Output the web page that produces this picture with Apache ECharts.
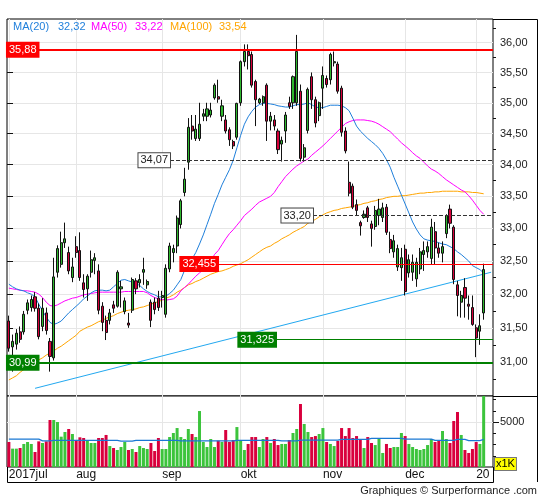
<!DOCTYPE html>
<html><head><meta charset="utf-8">
<script src="https://cdn.jsdelivr.net/npm/echarts@6/dist/echarts.min.js"></script>
<style>html,body{margin:0;padding:0;background:#fff}#c{width:545px;height:500px}</style>
</head><body><div id="c"></div>
<script>
// ---------------- DATA ----------------
const tradingDays = [
'2017-07-06','2017-07-07','2017-07-10','2017-07-11','2017-07-12','2017-07-13','2017-07-14','2017-07-17','2017-07-18','2017-07-19','2017-07-20','2017-07-21','2017-07-24','2017-07-25','2017-07-26','2017-07-27','2017-07-28','2017-07-31',
'2017-08-01','2017-08-02','2017-08-03','2017-08-04','2017-08-07','2017-08-08','2017-08-09','2017-08-10','2017-08-11','2017-08-14','2017-08-15','2017-08-16','2017-08-17','2017-08-18','2017-08-21','2017-08-22','2017-08-23','2017-08-24','2017-08-25','2017-08-28','2017-08-29','2017-08-30','2017-08-31',
'2017-09-01','2017-09-04','2017-09-05','2017-09-06','2017-09-07','2017-09-08','2017-09-11','2017-09-12','2017-09-13','2017-09-14','2017-09-15','2017-09-18','2017-09-19','2017-09-20','2017-09-21','2017-09-22','2017-09-25','2017-09-26','2017-09-27','2017-09-28','2017-09-29',
'2017-10-02','2017-10-03','2017-10-04','2017-10-05','2017-10-06','2017-10-09','2017-10-10','2017-10-11','2017-10-12','2017-10-13','2017-10-16','2017-10-17','2017-10-18','2017-10-19','2017-10-20','2017-10-23','2017-10-24','2017-10-25','2017-10-26','2017-10-27','2017-10-30','2017-10-31',
'2017-11-01','2017-11-02','2017-11-03','2017-11-06','2017-11-07','2017-11-08','2017-11-09','2017-11-10','2017-11-13','2017-11-14','2017-11-15','2017-11-16','2017-11-17','2017-11-20','2017-11-21','2017-11-22','2017-11-23','2017-11-24','2017-11-27','2017-11-28','2017-11-29','2017-11-30',
'2017-12-01','2017-12-04','2017-12-05','2017-12-06','2017-12-07','2017-12-08','2017-12-11','2017-12-12','2017-12-13','2017-12-14','2017-12-15','2017-12-18','2017-12-19','2017-12-20','2017-12-21','2017-12-22','2017-12-27','2017-12-28','2017-12-29',
'2018-01-02','2018-01-03','2018-01-04'
];
const open = [
31.60,31.22,31.26,31.44,31.44,31.76,31.80,31.96,31.79,31.52,
31.72,31.30,31.06,32.33,32.45,32.78,32.63,32.25,32.72,32.66,
32.17,32.08,32.33,32.51,32.35,31.82,31.61,31.61,31.84,31.82,
32.08,31.74,31.57,31.76,32.20,32.17,32.33,32.14,31.88,31.88,
31.94,31.95,31.70,32.38,32.63,32.73,33.06,33.56,34.04,34.62,
34.42,34.42,34.78,34.78,34.80,35.08,35.10,34.78,34.72,34.56,
34.37,34.44,35.00,35.68,35.85,35.80,35.35,35.00,35.00,35.29,
34.70,34.72,34.54,34.33,34.54,35.00,35.00,35.00,35.19,34.12,
34.55,35.43,35.05,34.79,35.24,35.40,35.38,35.66,35.64,35.24,
34.54,33.72,33.66,33.37,33.09,33.17,33.32,33.07,33.03,33.20,
33.17,33.33,32.83,32.64,32.41,32.40,32.68,32.32,32.33,32.23,
32.38,32.60,32.64,32.54,32.95,32.70,32.62,32.92,33.30,33.02,
32.14,31.88,32.10,31.85,31.80,31.50,31.45,31.72
];
const close = [
31.20,31.30,31.42,31.33,31.70,31.87,31.92,31.79,31.37,31.79,
31.46,31.08,32.26,32.69,32.78,32.84,32.35,32.41,32.63,32.25,
32.07,32.27,32.52,32.55,31.76,31.58,31.43,31.72,31.79,32.33,
32.11,31.90,31.54,32.22,32.08,32.22,32.37,32.19,31.61,31.77,
31.80,31.98,32.39,32.73,32.69,33.16,33.43,33.77,34.60,34.54,
34.57,34.65,34.82,34.90,34.88,35.29,35.06,34.95,34.54,34.40,
34.30,34.99,35.68,35.85,35.78,35.29,35.05,35.06,35.10,34.70,
34.78,34.62,34.24,34.39,34.80,34.94,35.43,35.85,34.10,34.27,
35.22,35.05,34.67,35.00,35.45,35.30,35.80,35.68,35.19,34.52,
34.22,33.55,33.33,33.28,33.04,33.22,33.17,33.00,33.28,33.30,
33.32,32.94,32.69,32.81,32.69,32.55,32.04,32.52,32.48,32.48,
32.64,32.66,32.72,33.02,32.70,32.62,32.72,33.20,33.08,32.22,
31.98,31.98,31.94,31.82,31.55,31.35,31.53,32.37
];
const high = [
31.68,31.40,31.48,31.52,31.75,31.92,31.98,32.03,31.86,31.94,
31.80,31.35,32.55,32.74,32.95,33.09,32.72,32.55,32.88,32.94,
32.30,32.30,32.66,32.62,32.45,31.88,31.68,31.78,31.90,32.36,
32.20,31.95,31.72,32.25,32.24,32.30,32.55,32.22,31.92,31.95,
32.05,32.05,32.45,32.78,32.75,33.20,33.46,33.95,34.75,34.80,
34.80,35.00,34.90,35.00,35.00,35.32,35.38,35.05,34.80,34.60,
34.40,35.00,35.70,35.97,35.97,35.85,35.38,35.08,35.12,35.32,
34.85,34.80,34.58,34.45,34.85,35.10,35.45,36.13,35.30,34.33,
35.25,35.50,35.10,35.02,35.60,35.45,35.83,35.85,35.68,35.28,
34.60,34.05,33.70,33.45,33.12,33.28,33.35,33.12,33.35,33.46,
33.40,33.38,32.95,32.90,32.75,32.70,32.75,32.60,32.60,32.55,
32.70,32.80,32.80,33.15,33.10,32.78,32.80,33.22,33.37,33.05,
32.20,32.05,32.24,31.98,31.98,31.55,31.70,32.46
];
const low = [
31.15,30.86,31.18,31.28,31.40,31.70,31.74,31.74,31.33,31.45,
31.40,30.86,31.02,32.25,32.40,32.70,32.30,32.18,32.55,32.20,
31.95,31.90,32.25,32.30,31.70,31.45,31.32,31.55,31.72,31.80,
31.80,31.70,31.50,31.72,32.00,32.10,32.14,32.08,31.51,31.70,
31.75,31.80,31.65,32.33,32.48,32.62,33.00,33.50,33.92,34.40,
34.38,34.38,34.70,34.70,34.76,35.05,35.00,34.70,34.50,34.30,
34.25,34.40,34.95,35.60,35.55,35.25,34.62,34.98,34.95,34.38,
34.55,34.55,34.17,34.05,34.35,34.90,34.90,34.95,34.05,34.05,
34.50,34.90,34.60,34.70,34.90,35.25,35.30,35.60,35.15,34.45,
34.18,33.50,33.30,33.20,32.89,33.15,33.10,32.72,32.98,33.05,
33.10,32.90,32.62,32.55,32.35,32.20,31.98,32.25,32.20,32.11,
32.30,32.35,32.55,32.45,32.45,32.55,32.48,32.85,33.00,32.15,
31.67,31.65,31.65,31.62,31.53,31.07,31.25,31.62
];
const volume = [
2780,2040,2040,2110,2560,2780,2560,1670,2850,2670,
2850,5220,5220,5000,3370,3890,4220,3670,2930,3300,
3220,3000,2670,2670,3220,3220,3560,2330,2110,1890,
2220,2780,1890,2000,1670,2330,2110,2000,2670,1780,
3220,2000,2000,3330,3780,4330,3330,3110,4220,3670,
3330,6220,2780,2220,3110,2220,2930,2780,4110,2780,
3000,4440,2890,1890,2560,3330,3330,2220,3110,3330,
2670,3110,2440,2560,2560,3000,3780,4220,7000,4780,
3890,3330,3440,3670,4330,2780,2560,2330,2890,4330,
3440,4330,3220,3440,3110,2110,3330,2670,2440,3110,
1560,2560,2110,2220,2220,3780,3440,2560,2220,2000,
1890,2000,2440,3110,2780,2890,4000,3110,2670,5110,
6110,3560,1890,1560,2000,2780,2560,9000
];
const ma20 = [
32.15,32.11,32.08,32.06,32.05,32.02,32.00,31.96,31.85,31.75,
31.66,31.58,31.55,31.57,31.60,31.66,31.72,31.77,31.82,31.87,
31.93,31.97,32.02,32.05,32.06,32.06,32.05,32.06,32.11,32.16,
32.21,32.22,32.20,32.18,32.16,32.13,32.08,32.04,32.01,31.99,
31.96,31.96,31.97,32.01,32.06,32.14,32.22,32.36,32.45,32.53,
32.63,32.76,32.90,33.06,33.22,33.39,33.53,33.68,33.80,33.92,
34.07,34.27,34.47,34.65,34.77,34.86,34.93,34.97,34.99,34.99,
34.98,34.97,34.95,34.94,34.93,34.93,34.95,34.97,34.97,34.98,
35.00,34.97,34.93,34.92,34.92,34.94,34.96,34.96,34.96,34.95,
34.92,34.87,34.75,34.62,34.54,34.48,34.42,34.37,34.32,34.26,
34.18,34.08,33.96,33.80,33.66,33.52,33.38,33.24,33.10,32.99,
32.90,32.84,32.82,32.81,32.80,32.78,32.76,32.75,32.72,32.69,
32.64,32.60,32.55,32.50,32.43,32.40,32.37,32.32
];
const ma50 = [
32.09,32.08,32.07,32.06,32.05,32.05,32.04,32.03,32.00,31.95,
31.88,31.83,31.82,31.84,31.87,31.90,31.92,31.94,31.95,31.97,
31.99,32.00,32.01,32.02,32.03,32.03,32.03,32.03,32.03,32.03,
32.03,32.04,32.04,32.04,32.04,32.04,32.04,32.02,31.98,31.95,
31.93,31.92,31.91,31.92,31.93,31.97,32.05,32.10,32.15,32.21,
32.27,32.32,32.37,32.43,32.49,32.60,32.66,32.75,32.84,32.92,
32.98,33.05,33.12,33.20,33.25,33.30,33.36,33.41,33.44,33.47,
33.50,33.56,33.65,33.73,33.81,33.87,33.93,33.98,34.02,34.06,
34.09,34.15,34.20,34.25,34.30,34.36,34.42,34.48,34.54,34.60,
34.66,34.69,34.71,34.72,34.72,34.72,34.71,34.70,34.68,34.65,
34.61,34.57,34.53,34.47,34.41,34.35,34.30,34.25,34.19,34.14,
34.10,34.04,33.98,33.93,33.90,33.86,33.81,33.76,33.72,33.68,
33.64,33.60,33.57,33.51,33.44,33.36,33.28,33.22
];
const ma100 = [
30.74,30.77,30.80,30.85,30.89,30.93,30.97,31.00,31.03,31.06,
31.10,31.13,31.16,31.20,31.23,31.27,31.31,31.35,31.39,31.45,
31.48,31.51,31.53,31.56,31.59,31.61,31.64,31.66,31.68,31.71,
31.73,31.75,31.76,31.77,31.78,31.80,31.81,31.83,31.85,31.87,
31.89,31.91,31.94,31.96,31.99,32.03,32.06,32.10,32.14,32.16,
32.19,32.21,32.24,32.27,32.30,32.32,32.34,32.35,32.37,32.39,
32.42,32.44,32.46,32.49,32.52,32.56,32.60,32.64,32.68,32.71,
32.73,32.77,32.80,32.84,32.87,32.90,32.94,32.97,33.00,33.03,
33.08,33.11,33.14,33.18,33.21,33.24,33.26,33.28,33.29,33.31,
33.32,33.33,33.34,33.36,33.37,33.39,33.40,33.42,33.43,33.45,
33.46,33.48,33.49,33.50,33.50,33.51,33.51,33.52,33.53,33.54,
33.55,33.55,33.56,33.56,33.57,33.57,33.58,33.58,33.58,33.58,
33.58,33.57,33.57,33.57,33.56,33.56,33.55,33.54
];
const volMA = [
3100,3100,3100,3100,3100,3100,3100,3100,3100,2900,
2900,2900,2950,2950,2950,2950,2950,2950,2950,2950,
2950,2950,2950,2950,2950,2950,2950,2950,2950,2950,
2880,2880,2880,2880,2950,2950,2950,2950,2950,2950,
2950,2950,2950,2950,2950,2950,2900,2900,2900,2900,
2900,2900,2900,2900,2900,2900,2900,2900,2900,2900,
2900,2950,2950,2950,2950,2950,2950,2950,2950,2950,
2950,2950,2950,2900,2900,2900,2900,2900,2980,2980,
2980,2980,2980,2980,2980,2980,2980,2980,2980,3070,
3070,3070,3070,3070,3070,3070,3070,3180,3180,3180,
3180,3180,3180,3180,3180,3180,3100,3100,3100,3100,
3100,3100,3100,3100,2960,2960,2960,2960,2960,2960,
3070,3070,3070,2930,2930,2930,2930,3070
];
const trendLine = [[7, 30.62], [129, 32.33]];
const levelValues = [35.88, 34.07, 33.20, 32.455, 31.325, 30.99];
const monthLabels = {'2017-07':'2017jul','2017-08':'aug','2017-09':'sep','2017-10':'okt','2017-11':'nov','2017-12':'dec','2018-01':'20'};
const priceTicks = [31, 31.5, 32, 32.5, 33, 33.5, 34, 34.5, 35, 35.5, 36];
const priceMinorTicks = [30.75, 31.25, 31.75, 32.25, 32.75, 33.25, 33.75, 34.25, 34.75, 35.25, 35.75, 36.25];
const volTicks = [5000];
const volMinorTicks = [1250, 2500, 3750, 6250, 7500];
const legendNames = ['MA(20)', 'MA(50)', 'MA(100)'];
const legendValues = [32.32, 33.22, 33.54];
const creditText = 'Graphiques \u00a9 Surperformance .com';
const unitText = 'x1K';

// ---------------- LAYOUT / STYLE ----------------
const FONT = 'Arial, "Liberation Sans", sans-serif';
const UP = '#2eb82e', DOWN = '#d6003a';
const VUP = '#3cc43c', VDOWN = '#d9003d';
const maColors = ['#1f7fdb', '#ff00ff', '#ffa500'];
const legendX = [[13, 58], [91, 135], [170, 219]];
const levelStyle = [
  {color:'#ff0000', width:2, type:'solid', bg:'#ff0000', fg:'#fff', border:'#ff0000', labelEnd:6.48},
  {color:'#333', width:1, type:[4,2], bg:'#fff', fg:'#222', border:'#444', labelEnd:33.54},
  {color:'#333', width:1, type:[4,2], bg:'#fff', fg:'#222', border:'#444', labelEnd:62.96},
  {color:'#ff0000', width:1, type:'solid', bg:'#ff0000', fg:'#fff', border:'#ff0000', labelEnd:43.42},
  {color:'#008000', width:1, type:'solid', bg:'#008000', fg:'#fff', border:'#008000', labelEnd:55.35},
  {color:'#008000', width:2.2, type:'solid', bg:'#008000', fg:'#fff', border:'#008000', labelEnd:6.48}
];

const categories = tradingDays.concat(['', ' ']);
const monthStart = new Set();
categories.forEach((d, i) => {
  if (d.length === 10 && (i === 0 || d.slice(0, 7) !== categories[i - 1].slice(0, 7))) monthStart.add(i);
});
const fmt2 = v => v.toFixed(2).replace('.', ',');
const fmtLevel = v => v.toFixed(3).replace(/0$/, '').replace('.', ',');

const candleData = open.map((o, i) => [o, close[i], low[i], high[i]]);
const volData = volume.map((v, i) => ({value: v, itemStyle: {color: close[i] >= open[i] ? VUP : VDOWN}}));

const levelMarks = levelValues.map((v, k) => {
  const s = levelStyle[k];
  return [
    {coord: [s.labelEnd, v], lineStyle: {color: s.color, width: s.width, type: s.type},
     label: {show: true, position: 'start', distance: 0, formatter: fmtLevel(v), color: s.fg,
             backgroundColor: s.bg, borderColor: s.border, borderWidth: 1, padding: [2, 2, 1, 2],
             fontSize: 11, fontFamily: FONT}},
    {coord: [100, v]}
  ];
});

const gridLine = {color: '#e6e6e6', width: 1};
const catAxisBase = {
  type: 'category', data: categories, boundaryGap: true,
  axisLine: {show: false}, axisTick: {show: false},
  splitLine: {show: true, alignWithLabel: true, interval: (i) => monthStart.has(i), lineStyle: gridLine}
};

const graphics = [];
legendNames.forEach((n, k) => {
  graphics.push({type: 'text', x: legendX[k][0], y: 27, z: 100,
    style: {text: n, fill: maColors[k], font: '11px ' + FONT, verticalAlign: 'middle'}});
  graphics.push({type: 'text', x: legendX[k][1], y: 27, z: 100,
    style: {text: fmt2(legendValues[k]), fill: maColors[k], font: '11px ' + FONT, verticalAlign: 'middle'}});
});
graphics.push({type: 'polyline', z: 100, shape: {points: [[493, 19.5], [537.5, 19.5], [537.5, 482]]}, style: {stroke: '#000', lineWidth: 1, fill: null}});
graphics.push({type: 'line', z: 100, shape: {x1: 493, y1: 396.5, x2: 537.5, y2: 396.5}, style: {stroke: '#000', lineWidth: 1}});
graphics.push({type: 'polyline', z: 100, shape: {points: [[493.5, 467], [493.5, 482.5], [7.5, 482.5], [7.5, 467]]}, style: {stroke: '#000', lineWidth: 1, fill: null}});
graphics.push({type: 'text', x: 495, y: 464, z: 100,
  style: {text: unitText, fill: '#000', font: '11px ' + FONT, verticalAlign: 'middle', backgroundColor: '#ffff00',
          borderColor: '#777', borderWidth: 1, padding: [1, 1, 0, 1]}});
graphics.push({type: 'text', x: 537, y: 491, z: 100,
  style: {text: creditText, fill: '#222', font: '11px ' + FONT, align: 'right', verticalAlign: 'middle'}});

const option = {
  animation: false,
  backgroundColor: '#fff',
  grid: [
    {left: 7, top: 19, width: 486, height: 377, show: true, borderColor: '#000', borderWidth: 1, backgroundColor: '#fff', outerBoundsMode: 'none', containLabel: false},
    {left: 7, top: 396, width: 486, height: 71, show: true, borderColor: '#000', borderWidth: 1, backgroundColor: '#fff', outerBoundsMode: 'none', containLabel: false}
  ],
  xAxis: [
    Object.assign({}, catAxisBase, {gridIndex: 0, axisLabel: {show: false}}),
    Object.assign({}, catAxisBase, {gridIndex: 1, axisLabel: {show: true, interval: (i) => monthStart.has(i),
      formatter: (v) => monthLabels[v.slice(0, 7)] || '', align: 'left', margin: 2, fontSize: 12, color: '#111', fontFamily: FONT}}),
    {type: 'value', gridIndex: 0, min: 0, max: 100, show: false}
  ],
  yAxis: [
    {type: 'log', logBase: 10, gridIndex: 0, position: 'right', min: 30.51, max: 36.40,
     axisLine: {show: false},
     axisTick: {show: true, customValues: priceTicks, length: 6, lineStyle: {color: '#111'}},
     axisLabel: {show: true, customValues: priceTicks, formatter: (v) => fmt2(v), margin: 7, fontSize: 11, color: '#222', fontFamily: FONT, padding: [0, 0, 4, 0]},
     splitLine: {show: true, lineStyle: gridLine}, minorTick: {show: false}},
    {type: 'value', gridIndex: 1, position: 'right', min: 0, max: 7890,
     axisLine: {show: false},
     axisTick: {show: true, customValues: volTicks, length: 6, lineStyle: {color: '#111'}},
     axisLabel: {show: true, customValues: volTicks, formatter: (v) => String(v), margin: 7, fontSize: 11, color: '#222', fontFamily: FONT, padding: [0, 0, 4, 0]},
     splitLine: {show: true, lineStyle: gridLine}},
    {type: 'log', logBase: 10, gridIndex: 0, position: 'right', min: 30.51, max: 36.40,
     axisLine: {show: false}, axisLabel: {show: false}, splitLine: {show: false},
     axisTick: {show: true, customValues: priceMinorTicks, length: 3, lineStyle: {color: '#111'}}},
    {type: 'value', gridIndex: 1, position: 'right', min: 0, max: 7890,
     axisLine: {show: false}, axisLabel: {show: false}, splitLine: {show: false},
     axisTick: {show: true, customValues: volMinorTicks, length: 3, lineStyle: {color: '#111'}}}
  ],
  graphic: graphics,
  series: [
    {type: 'line', name: 'trend', xAxisIndex: 0, yAxisIndex: 0, data: trendLine, symbol: 'none', silent: true, z: 2,
     lineStyle: {color: '#22a8f0', width: 1}},
    {type: 'line', name: 'MA100', xAxisIndex: 0, yAxisIndex: 0, data: ma100, symbol: 'none', silent: true, z: 2,
     lineStyle: {color: maColors[2], width: 1}},
    {type: 'line', name: 'MA50', xAxisIndex: 0, yAxisIndex: 0, data: ma50, symbol: 'none', silent: true, z: 2,
     lineStyle: {color: maColors[1], width: 1}},
    {type: 'line', name: 'MA20', xAxisIndex: 0, yAxisIndex: 0, data: ma20, symbol: 'none', silent: true, z: 2,
     lineStyle: {color: maColors[0], width: 1}},
    {type: 'candlestick', xAxisIndex: 0, yAxisIndex: 0, data: candleData, barWidth: 2.6, z: 3,
     itemStyle: {color: UP, color0: DOWN, borderColor: '#111', borderColor0: '#111', borderWidth: 1}},
    {type: 'line', name: 'levels', xAxisIndex: 2, yAxisIndex: 0, data: [], z: 5,
     markLine: {symbol: ['none', 'none'], silent: true, animation: false, data: levelMarks}},
    {type: 'bar', xAxisIndex: 1, yAxisIndex: 1, data: volData, barWidth: 3, z: 2},
    {type: 'line', xAxisIndex: 1, yAxisIndex: 1, data: volMA, symbol: 'none', silent: true, z: 3,
     lineStyle: {color: '#1a78d4', width: 1.3}}
  ]
};
const chart = echarts.init(document.getElementById('c'), null, {renderer: 'canvas'});
chart.setOption(option);
</script></body></html>
